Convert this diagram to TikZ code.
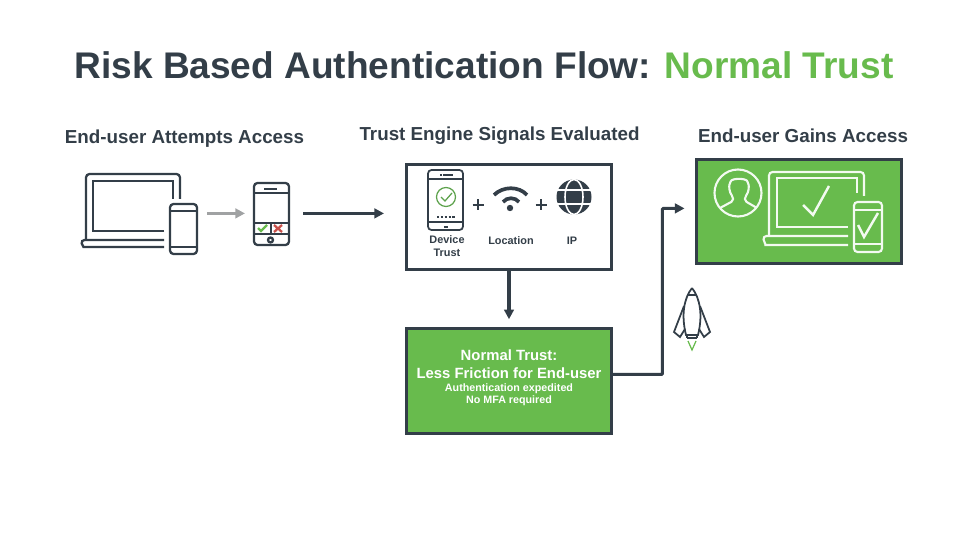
\documentclass[tikz,border=0pt]{standalone}
\usepackage{fontspec}
\setmainfont{Liberation Sans}
\usepackage{xcolor}
\usetikzlibrary{arrows.meta}
\definecolor{slate}{HTML}{333E48}
\definecolor{leaf}{HTML}{68BB4D}
\definecolor{iconred}{HTML}{C8504A}
\definecolor{arrowgrey}{HTML}{A0A2A3}
\tikzset{
    panel/.style={draw=slate, line width=1.8pt, minimum width=116.5pt, inner sep=0pt},
    spot/.style={inner sep=0pt, minimum height=2pt},
    heading/.style={text=slate, font=\bfseries\fontsize{10.7}{12}\selectfont},
    small/.style={text=slate, font=\bfseries\fontsize{6.2}{7}\selectfont},
    flow/.style={draw=slate, line width=1.75pt, -{Triangle[length=5.5pt,width=5.5pt]}},
    icon/.style={draw=slate, line width=1.3pt, rounded corners=2pt},
    whiteicon/.style={draw=white!92!leaf, line width=1.2pt, rounded corners=2pt}
}
\begin{document}
\begin{tikzpicture}[x=0.02cm, y=-0.02cm]
    \useasboundingbox (0,0) rectangle (960,540);
    \node[text=slate, font=\bfseries\fontsize{21.1}{25}\selectfont] (title) at (484,65)
        {Risk Based Authentication Flow: \textcolor{leaf}{Normal Trust}};
    \node[heading] (attempt) at (184.5,138.5) {End-user Attempts Access};
    \node[heading] (signals) at (499.5,135.5) {Trust Engine Signals Evaluated};
    \node[heading] (gains) at (803,135.5) {End-user Gains Access};

    % boxes
    \node[panel, fill=white, minimum height=60pt] (trust) at (509,217) {};
    \node[panel, fill=leaf, minimum height=59.5pt] (normal) at (509,381) {};
    \node[panel, fill=leaf, minimum height=59.5pt] (access) at (799,211.5) {};

    % icon places for the arrows
    \node[spot, minimum width=65.5pt] (devices) at (139,213.4) {};
    \node[spot, minimum width=19.8pt] (phone) at (271.5,213.4) {};
    \coordinate (bend) at (662.4,374.4);
    \coordinate (bendtop) at (662.4,208.4);

    % connectors
    \draw[draw=arrowgrey, line width=1.75pt, -{Triangle[length=5.5pt,width=5.5pt]}, shorten <=5.7pt, shorten >=5pt]
        (devices) -- (phone);
    \draw[flow, shorten <=8pt, shorten >=12pt] (phone) -- (phone -| trust.west);
    \draw[flow, shorten >=4.5pt] (trust) -- (normal);
    \draw[flow, shorten >=6pt, rounded corners=0.5pt] (normal.east |- bend) -- (bend) -- (bendtop) -- (bendtop -| access.west);

    % laptop and phone
    \draw[icon] (164,240) -- (81,240) .. controls (82,245) and (84,247) .. (87,247) -- (164,247);
    \draw[icon] (86,239) -- (86,174) -- (180,174) -- (180,199);
    \draw[icon, rounded corners=0pt] (164,231) -- (93,231) -- (93,181) -- (173,181) -- (173,199);
    \draw[icon] (170,204) rectangle (197,254);
    \draw[icon] (170,211) -- (197,211) (170,247) -- (197,247);

    % phone with two buttons
    \draw[icon] (254,183) rectangle (289,245);
    \draw[icon] (254,193) -- (289,193) (254,223) -- (289,223) (254,234) -- (289,234) (271,223) -- (271,234);
    \draw[icon] (264,189) -- (277,189);
    \draw[icon] (270.5,240) circle (2.5);
    \draw[leaf, line width=1.3pt] (258,228) -- (261,231) -- (267,225);
    \draw[iconred, line width=1.3pt] (274,225) -- (282,232) (282,225) -- (274,232);

    % device trust phone
    \draw[icon, line width=1pt] (428,170) rectangle (463,230);
    \draw[icon, line width=1pt] (428,179) -- (463,179) (428,222) -- (463,222);
    \draw[icon, line width=0.8pt] (443,175) -- (453,175) (440,175) -- (441.5,175) (444,227) -- (448,227);
    \draw[icon, line width=0.9pt, dash pattern=on 1.2pt off 1pt] (437,217) -- (456,217);
    \draw[leaf!80!slate, line width=0.7pt] (446,197) circle (9.5);
    \draw[leaf!80!slate, line width=0.7pt] (441,197) -- (445,201) -- (452,193);

    % plus signs and wifi
    \foreach \x in {478,541} {
        \draw[slate, line width=1.4pt] (\x-5.5,205) -- (\x+5.5,205) (\x,199.5) -- (\x,210.5);
    }
    \draw[slate, line width=2.1pt] (494,195) .. controls (503,186) and (519,186) .. (527,195);
    \draw[slate, line width=2.1pt] (503,202) .. controls (507,197) and (515,197) .. (519,202);
    \fill[slate] (510,208) circle (3.2);

    % globe
    \fill[slate] (574,197) circle (17.5);
    \draw[white, line width=0.9pt] (574,197) ellipse (9 and 17.5);
    \draw[white, line width=0.9pt] (557,190) -- (591,190) (557,204) -- (591,204);

    % labels in the trust box
    \node[small] (devicelabel) at (447,240) {Device};
    \node[small] (trustlabel) at (447,252.5) {Trust};
    \node[small] (locationlabel) at (511,240.5) {Location};
    \node[small] (iplabel) at (572,240.5) {IP};

    % labels in the normal box
    \node[text=white, font=\bfseries\fontsize{8.45}{9}\selectfont] (normaltext) at (509,355) {Normal Trust:};
    \node[text=white, font=\bfseries\fontsize{8.45}{9}\selectfont] (lesstext) at (509,373) {Less Friction for End-user};
    \node[text=white, font=\bfseries\fontsize{6.1}{7}\selectfont] (expedited) at (509,389) {Authentication expedited};
    \node[text=white, font=\bfseries\fontsize{6.1}{7}\selectfont] (nomfa) at (509,401) {No MFA required};

    % user, laptop and phone in the access box
    \draw[whiteicon] (738,193) circle (23.5);
    \draw[whiteicon, rounded corners=1pt] (720,208) -- (733,201) -- (733,197) .. controls (729,192) and (729,186) .. (730,183)
        .. controls (732,178) and (746,178) .. (748,183) .. controls (749,186) and (749,192) .. (745,197) -- (745,201) -- (757,208);
    \draw[whiteicon] (848,236) -- (763,236) .. controls (764,242) and (766,245) .. (769,245) -- (848,245);
    \draw[whiteicon] (769,236) -- (769,172) -- (864,172) -- (864,196);
    \draw[whiteicon, rounded corners=0pt] (848,227) -- (777,227) -- (777,178) -- (857,178) -- (857,193);
    \draw[whiteicon] (854,202) rectangle (882,252);
    \draw[whiteicon] (854,210) -- (882,210) (854,244) -- (882,244);
    \draw[whiteicon, rounded corners=0pt, line width=1.4pt] (803,205) -- (813,215) -- (829,186);
    \draw[whiteicon, rounded corners=0pt, line width=1.4pt] (858,225) -- (864,237) -- (878,213);

    % rocket
    \draw[icon, line width=1pt, rounded corners=0pt] (692,288) .. controls (684,298) and (681,315) .. (686,335) -- (698,335)
        .. controls (703,315) and (700,298) .. (692,288);
    \draw[icon, line width=1pt, rounded corners=0pt] (688,295) -- (696,295) (687,338) -- (697,338) (687,335) -- (687,338) (697,335) -- (697,338);
    \draw[icon, line width=1pt, rounded corners=0pt] (684,306) -- (674,332) -- (680,337) -- (685,329);
    \draw[icon, line width=1pt, rounded corners=0pt] (700,306) -- (710,332) -- (704,337) -- (699,329);
    \draw[leaf, line width=0.7pt] (688,341) -- (692,350) -- (696,341);
\end{tikzpicture}
\end{document}
